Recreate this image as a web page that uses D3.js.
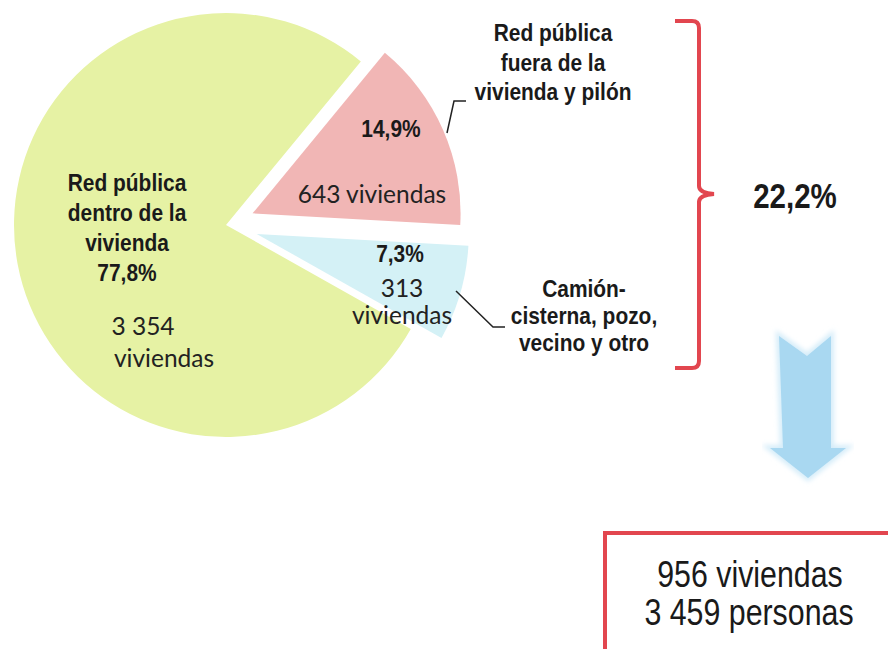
<!DOCTYPE html>
<html lang="es">
<head>
<meta charset="UTF-8">
<title>Abastecimiento de agua en la vivienda</title>
<script src="https://d3js.org/d3.v7.min.js"></script>
<style>
  body { margin: 0; background: #fff; }
  .narrow { font-family: "Liberation Sans", Arial, sans-serif; fill: #1a1a1a; }
  .calibri { font-family: Lato, "Open Sans", sans-serif; fill: #222; }
</style>
</head>
<body>
<svg width="888" height="649"></svg>
<script>
// slices in drawing order (clockwise from the top-right)
const categories = ["Red pública fuera de la vivienda y pilón", "Camión-cisterna, pozo, vecino y otro", "Red pública dentro de la vivienda"];
const viviendas = [643, 313, 3354];
const percentLabels = ["14,9%", "7,3%", "77,8%"];
const sliceColors = ["#f1b6b5", "#d4f1f6", "#e6f2a4"];
const explode = [29, 32, 0];

// totals for the 22,2 % group
const groupPercent = "22,2%";
const groupViviendas = "956 viviendas";
const groupPersonas = "3 459 personas";

const svg = d3.select("svg");
const cx = 226, cy = 225, radius = 212;

const pie = d3.pie().sort(null).value(d => d)
    .startAngle(39.5 * Math.PI / 180)
    .endAngle(39.5 * Math.PI / 180 + 2 * Math.PI);
const arc = d3.arc().innerRadius(0).outerRadius((d, i) => d.index === 0 ? 208 : radius);
const arcs = pie(viviendas);

svg.append("g")
   .attr("transform", `translate(${cx},${cy})`)
   .selectAll("path")
   .data(arcs)
   .enter().append("path")
   .attr("transform", (d, i) => {
       const mid = (d.startAngle + d.endAngle) / 2;
       return `translate(${Math.sin(mid) * explode[i]},${-Math.cos(mid) * explode[i]})`;
   })
   .attr("d", arc)
   .attr("fill", (d, i) => sliceColors[i]);

// condensed text helper (Arial Narrow look)
function label(x, y, txt, size, bold, sx) {
    svg.append("text")
       .attr("class", "narrow")
       .attr("transform", `translate(${x},${y}) scale(${sx},1)`)
       .attr("text-anchor", "middle")
       .style("font-size", size + "px")
       .style("font-weight", bold ? "bold" : "normal")
       .text(txt);
}
function body(x, y, txt, size) {
    svg.append("text")
       .attr("class", "calibri")
       .attr("x", x).attr("y", y)
       .attr("text-anchor", "middle")
       .style("font-size", size + "px")
       .text(txt);
}

// green slice labels
["Red pública", "dentro de la", "vivienda"].forEach((t, i) => label(127, 191 + i * 30, t, 23, true, 0.91));
label(127, 281, percentLabels[2], 23, true, 0.91);
body(143, 335, d3.format(",")(viviendas[2]).replace(",", " "), 24.5);
body(164, 367, "viviendas", 24.5);

// pink slice labels
label(391, 137, percentLabels[0], 23, true, 0.91);
body(372, 203, viviendas[0] + " viviendas", 24.5);

// blue slice labels
label(400, 262, percentLabels[1], 23, true, 0.91);
body(402, 297, viviendas[1], 24.5);
body(402, 324, "viviendas", 24.5);

// outside labels
["Red pública", "fuera de la", "vivienda y pilón"].forEach((t, i) => label(553, 41 + i * 29.5, t, 23, true, 0.91));
["Camión-", "cisterna, pozo,", "vecino y otro"].forEach((t, i) => label(584, 297 + i * 27, t, 23, true, 0.91));

// leader lines
const line = d3.line();
svg.append("path").attr("d", line([[447, 133], [454, 101], [466, 101]]))
   .attr("fill", "none").attr("stroke", "#222").attr("stroke-width", 1.5);
svg.append("path").attr("d", line([[456, 291], [493, 327], [505, 327]]))
   .attr("fill", "none").attr("stroke", "#222").attr("stroke-width", 1.5);

// bracket
const red = "#e2464f";
svg.append("path")
   .attr("d", "M675,21 L692,21 Q699,21 699,28 L699,186 Q699,193 714,194 Q699,195 699,202 L699,361 Q699,368 692,368 L675,368")
   .attr("fill", "none").attr("stroke", red).attr("stroke-width", 4);
label(795, 208, groupPercent, 36, true, 0.82);

// down arrow
const defs = svg.append("defs");
defs.append("filter").attr("id", "glow")
    .append("feGaussianBlur").attr("stdDeviation", 2.5);
const arrow = "M779,336 L807,356 L831,336 L831,448 L846,448 L808,478 L770,448 L783,448 Z";
svg.append("path").attr("d", arrow).attr("fill", "#d6edf9")
   .attr("stroke", "#d6edf9").attr("stroke-width", 6).attr("filter", "url(#glow)");
svg.append("path").attr("d", arrow).attr("fill", "#a9d8f1");

// totals box
svg.append("rect").attr("x", 605).attr("y", 533).attr("width", 320).attr("height", 140)
   .attr("fill", "none").attr("stroke", red).attr("stroke-width", 4);
label(750, 587, groupViviendas, 37, false, 0.82);
label(749, 625, groupPersonas, 37, false, 0.82);
</script>
</body>
</html>
